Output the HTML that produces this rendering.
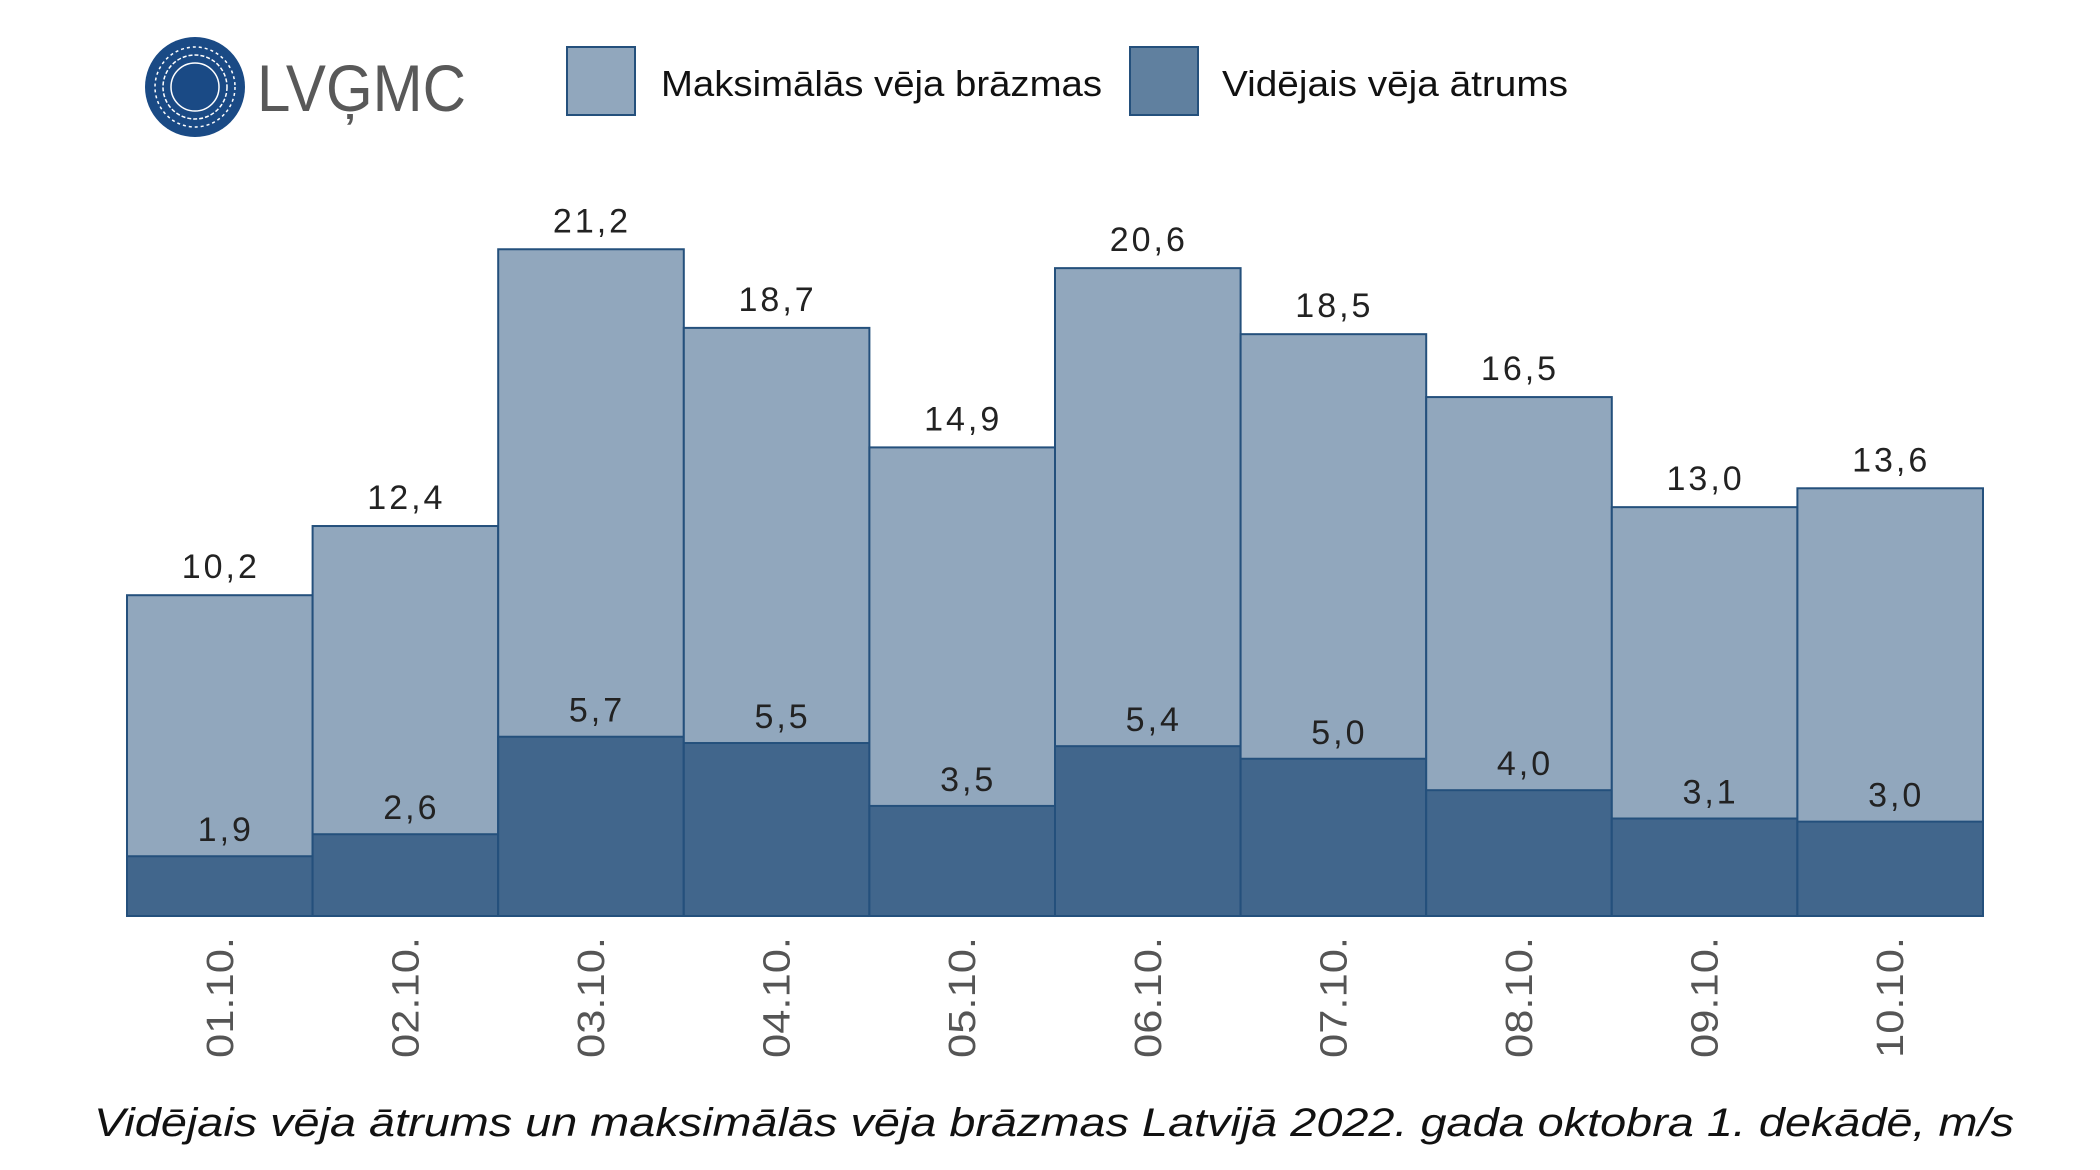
<!DOCTYPE html>
<html><head><meta charset="utf-8"><style>html,body{margin:0;padding:0;background:#fff}svg{display:block}</style></head>
<body>
<svg width="2100" height="1170" viewBox="0 0 2100 1170" xmlns="http://www.w3.org/2000/svg" font-family="Liberation Sans, sans-serif">
<rect width="2100" height="1170" fill="#fff"/>
<circle cx="195" cy="87" r="50" fill="#1a4a85"/>
<circle cx="195" cy="87" r="40" fill="none" stroke="#fff" stroke-width="1.5" stroke-dasharray="3 3"/>
<circle cx="195" cy="87" r="32" fill="none" stroke="#fff" stroke-width="1.5" stroke-dasharray="4 2"/>
<circle cx="195" cy="87" r="24" fill="none" stroke="#fff" stroke-width="1.5"/>
<text x="257" y="111" font-size="66" fill="#595959" textLength="209" lengthAdjust="spacingAndGlyphs">LVĢMC</text>
<rect x="567" y="47" width="68" height="68" fill="#91a7bd" stroke="#24507c" stroke-width="2"/>
<text x="661" y="96" font-size="36" fill="#111" textLength="441" lengthAdjust="spacingAndGlyphs">Maksimālās vēja brāzmas</text>
<rect x="1130" y="47" width="68" height="68" fill="#60809f" stroke="#24507c" stroke-width="2"/>
<text x="1222" y="96" font-size="36" fill="#111" textLength="346" lengthAdjust="spacingAndGlyphs">Vidējais vēja ātrums</text>
<g id="bars" stroke="#24507c" stroke-width="2"></g>
<g id="labels" font-size="34" fill="#222" text-anchor="middle" letter-spacing="3"></g>
<g id="xl" font-size="38" fill="#555"></g>
<text x="1054" y="1136" font-size="40" font-style="italic" fill="#111" text-anchor="middle" textLength="1920" lengthAdjust="spacingAndGlyphs">Vidējais vēja ātrums un maksimālās vēja brāzmas Latvijā 2022. gada oktobra 1. dekādē, m/s</text>
<script>
var mx=[10.2,12.4,21.2,18.7,14.9,20.6,18.5,16.5,13.0,13.6],av=[1.9,2.6,5.7,5.5,3.5,5.4,5.0,4.0,3.1,3.0];
var x0=127,w=185.6,base=916,k=31.45,ns="http://www.w3.org/2000/svg";
var b=document.getElementById('bars'),l=document.getElementById('labels'),xl=document.getElementById('xl');
function el(t,a,p,txt){var e=document.createElementNS(ns,t);for(var i in a)e.setAttribute(i,a[i]);if(txt)e.textContent=txt;p.appendChild(e);}
for(var i=0;i<10;i++){var x=x0+i*w,hm=mx[i]*k,ha=av[i]*k,c=x+w/2;
el('rect',{x:x,y:base-hm,width:w,height:hm,fill:'#91a7bd'},b);
el('rect',{x:x,y:base-ha,width:w,height:ha,fill:'#41668c'},b);
el('text',{x:c+1,y:base-hm-17},l,mx[i].toFixed(1).replace('.',','));
el('text',{x:c+6,y:base-ha-15},l,av[i].toFixed(1).replace('.',','));
var d=(i<9?'0':'')+(i+1)+'.10.';
el('text',{x:0,y:0,transform:'translate('+(c+13)+',937) rotate(-90)','text-anchor':'end',textLength:121,lengthAdjust:'spacingAndGlyphs'},xl,d);}
</script>
</svg>
</body></html>
